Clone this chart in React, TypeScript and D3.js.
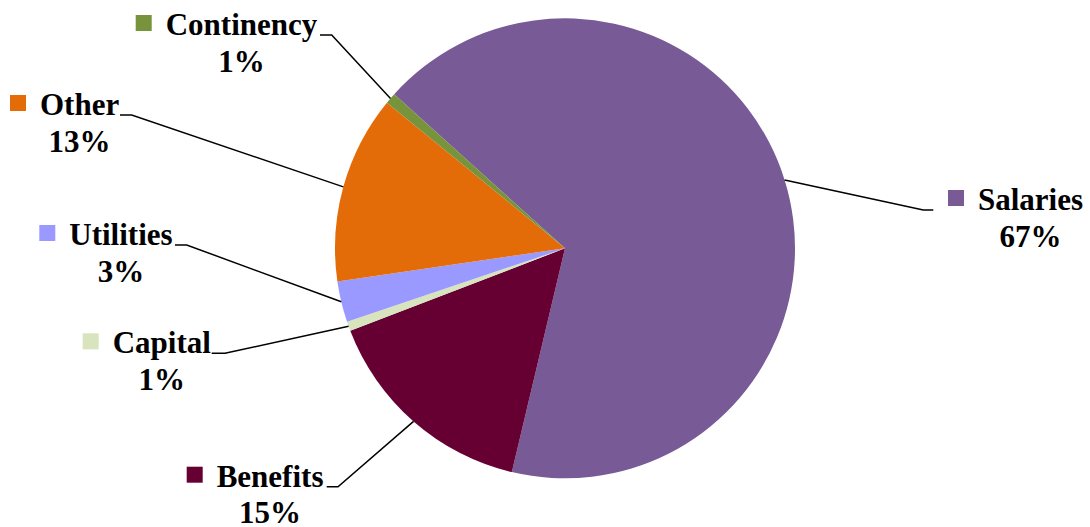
import React from "react";
import * as d3 from "d3";

const categories = ["Salaries", "Benefits", "Capital", "Utilities", "Other", "Continency"];
const values = [67.0, 15.45, 0.66, 2.87, 13.2, 0.77];
const colors = ["#775A96", "#660033", "#D7E4BD", "#9999FF", "#E36C09", "#77933C"];

// label layout: name text start x, name baseline y, knee x (where leader turns horizontal)
const labelX = [978, 216.7, 112.7, 69.3, 40, 165.7];
const labelY = [210, 486.7, 353.3, 245, 115, 35];
const kneeX = [923.3, 338, 225, 186.7, 131.7, 331.7];
const lineEndX = [933.3, 326.7, 211.7, 175, 120, 320];

const W = 1090;
const H = 527;
const cx = 565;
const cy = 248.3;
const R = 230;

export default function App() {
  const total = d3.sum(values);
  const start = (-47.96 * Math.PI) / 180;
  const pie = d3
    .pie<number>()
    .sort(null)
    .value((d) => d)
    .startAngle(start)
    .endAngle(start + 2 * Math.PI);
  const arcs = pie(values);
  const arc = d3.arc<d3.PieArcDatum<number>>().innerRadius(0).outerRadius(R);
  const font = "'Liberation Serif', 'Times New Roman', serif";

  return (
    <svg
      width={W}
      height={H}
      style={{ position: "absolute", left: 0, top: 0, background: "#fff" }}
    >
      <g transform={`translate(${cx},${cy})`}>
        {arcs.map((a, i) => (
          <path key={i} d={arc(a) || ""} fill={colors[i]} />
        ))}
      </g>
      {arcs.map((a, i) => {
        const mid = (a.startAngle + a.endAngle) / 2;
        const px = cx + R * Math.sin(mid);
        const py = cy - R * Math.cos(mid);
        const ly = labelY[i];
        const pts: [number, number][] = [
          [px, py],
          [kneeX[i], ly],
          [lineEndX[i], ly],
        ];
        const line = d3.line()(pts) || "";
        const pct = Math.round((values[i] / total) * 100) + "%";
        return (
          <g key={"l" + i}>
            <path d={line} fill="none" stroke="#000" strokeWidth={1.5} />
            <rect x={labelX[i] - 30} y={ly - 20} width={16} height={16} fill={colors[i]} />
            <text
              x={labelX[i]}
              y={ly}
              fontFamily={font}
              fontWeight="bold"
              fontSize={31}
              fill="#000"
              className={"name" + i}
            >
              {categories[i]}
            </text>
            <NameCentered
              idx={i}
              x={labelX[i]}
              y={ly + 36.7}
              label={categories[i]}
              text={pct}
              font={font}
            />
          </g>
        );
      })}
    </svg>
  );
}

function NameCentered(props: {
  idx: number;
  x: number;
  y: number;
  label: string;
  text: string;
  font: string;
}) {
  // measure name width via canvas to center the percentage under it
  const w = React.useMemo(() => {
    const c = document.createElement("canvas");
    const ctx = c.getContext("2d");
    if (!ctx) return 0;
    ctx.font = `bold 31px ${props.font}`;
    return ctx.measureText(props.label).width;
  }, [props.label, props.font]);
  return (
    <text
      x={props.x + w / 2}
      y={props.y}
      textAnchor="middle"
      fontFamily={props.font}
      fontWeight="bold"
      fontSize={31}
      fill="#000"
    >
      {props.text}
    </text>
  );
}
